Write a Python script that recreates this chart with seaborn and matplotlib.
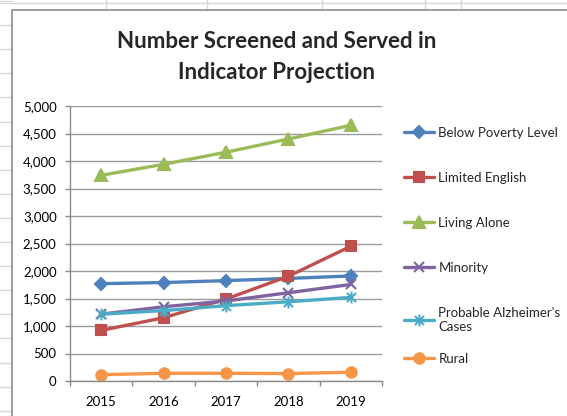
import pandas as pd
import seaborn as sns
from matplotlib import pyplot as plt
from matplotlib.lines import Line2D
from matplotlib.patches import Rectangle
from matplotlib.path import Path
from matplotlib.ticker import FuncFormatter, MultipleLocator

# Data
years = [2015, 2016, 2017, 2018, 2019]
below_poverty = [1770, 1790, 1825, 1865, 1910]
limited_english = [920, 1150, 1490, 1905, 2450]
living_alone = [3740, 3940, 4160, 4400, 4650]
minority = [1215, 1350, 1455, 1605, 1755]
alzheimers = [1215, 1280, 1370, 1440, 1520]
rural = [115, 140, 140, 135, 160]

# Excel style star marker: an x with a vertical bar through it
star = Path([(-1, -1), (1, 1), (-1, 1), (1, -1), (0, -1.3), (0, 1.3)],
            [Path.MOVETO, Path.LINETO, Path.MOVETO, Path.LINETO, Path.MOVETO, Path.LINETO])

series_names = ['Below Poverty Level', 'Limited English', 'Living Alone', 'Minority',
                "Probable Alzheimer's\nCases", 'Rural']
series_values = [below_poverty, limited_english, living_alone, minority, alzheimers, rural]
series_colors = ['#4F81BD', '#C0504D', '#9BBB59', '#8064A2', '#4BACC6', '#F79646']
series_markers = ['D', 's', '^', 'x', star, 'o']
marker_sizes = [6.5, 7, 8.5, 7.5, 8.5, 7.5]

sns.set_theme(style='white')
plt.rcParams['font.family'] = ['Lato', 'DejaVu Sans']

W, H = 567, 416
fig = plt.figure(figsize=(W / 100, H / 100), dpi=100)


def px(x, y):
    return x / W, 1 - y / H


# Spreadsheet background behind the chart
for k in range(18):
    y = 1 + 24.1 * k
    fig.add_artist(Line2D([0, 12 / W], [1 - y / H] * 2, color='#d9d9d9', lw=1, zorder=-3))
for x in [106, 207, 322, 425, 461]:
    fig.add_artist(Line2D([x / W] * 2, [1, 1 - 10 / H], color='#d9d9d9', lw=1, zorder=-3))
fig.add_artist(Line2D([0, 1], [1 - 3 / H] * 2, color='#d9d9d9', lw=1, zorder=-3))
fig.add_artist(Rectangle(px(12, 420), 570 / W, 410 / H, facecolor='white',
                         edgecolor='#8c8c8c', lw=1.2, transform=fig.transFigure, zorder=-2))

ax = fig.add_axes([70 / W, 35 / H, 312 / W, 275 / H])
ax.set_facecolor('none')
ax.set_zorder(2)

for name, vals, col, mk, ms in zip(series_names, series_values, series_colors,
                                    series_markers, marker_sizes):
    sns.lineplot(x=years, y=vals, color=col, marker=mk, markersize=ms,
                 markeredgecolor=col, markeredgewidth=1.5, linewidth=2.4,
                 label=name, ax=ax)

ax.set_xlim(2014.5, 2019.5)
ax.set_ylim(0, 5000)
ax.yaxis.set_major_locator(MultipleLocator(500))
ax.yaxis.set_major_formatter(FuncFormatter(lambda v, p: f'{int(v):,}'))
ax.set_xticks(years)
ax.set_xticklabels([str(y) for y in years])
ax.set_xticks([2014.5 + i for i in range(6)], minor=True)
ax.grid(axis='y', color='#9a9a9a', lw=1)
ax.set_axisbelow(True)
for s in ['top', 'right']:
    ax.spines[s].set_visible(False)
for s in ['left', 'bottom']:
    ax.spines[s].set_color('#8c8c8c')
    ax.spines[s].set_linewidth(1)
ax.tick_params(axis='y', which='major', left=True, length=3.6, width=1, color='#8c8c8c',
               direction='out', pad=6, labelsize=9.5, labelcolor='black')
ax.tick_params(axis='x', which='major', bottom=False, length=0, pad=11,
               labelsize=9.5, labelcolor='black')
ax.tick_params(axis='x', which='minor', bottom=True, length=3.6, width=1,
               color='#8c8c8c', direction='out')
ax.set_xlabel('')
ax.set_ylabel('')

# Legend: Excel packs the last entry tighter, so split it in two
handles, labels = ax.get_legend_handles_labels()
ax.get_legend().remove()
leg_kw = dict(loc='upper left', frameon=False, borderpad=0, borderaxespad=0,
              handlelength=2.3, handletextpad=0.3, labelspacing=2.5, fontsize=9.5)
fig.legend(handles[:5], labels[:5], bbox_to_anchor=px(404, 127), **leg_kw)
fig.legend(handles[5:], labels[5:], bbox_to_anchor=px(404, 353), **leg_kw)

fig.text(277 / W, 1 - 57 / H, 'Number Screened and Served in\nIndicator Projection',
         ha='center', va='center', fontsize=16, fontweight='bold', linespacing=1.6)

fig.savefig('out.png', dpi=100)
